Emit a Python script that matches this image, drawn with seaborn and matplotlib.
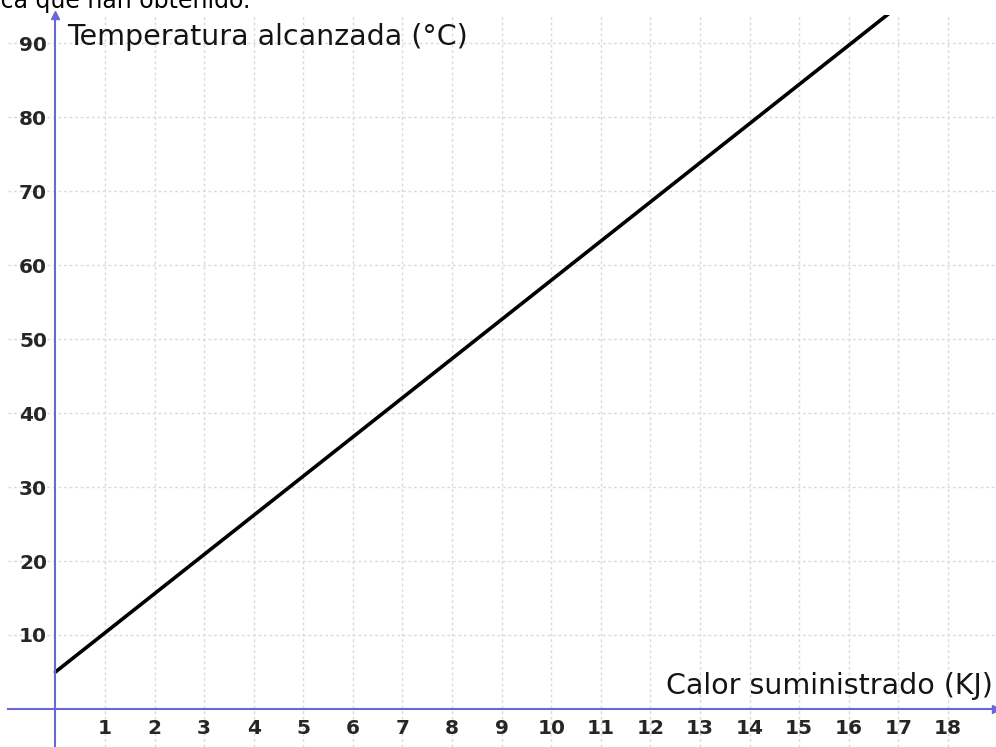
import matplotlib
matplotlib.use('Agg')
import matplotlib.pyplot as plt
import seaborn as sns

# datos de la recta
calor_kj = [0, 17]
temperatura_c = [5, 95]

x_ticks = list(range(1, 19))
y_ticks = list(range(10, 100, 10))

titulo_y = 'Temperatura alcanzada (°C)'
titulo_x = 'Calor suministrado (KJ)'
cabecera = 'ica que han obtenido.'

azul = '#6868d8'

sns.set_theme(style='white')
plt.rcParams['font.family'] = ['DejaVu Sans']

fig = plt.figure(figsize=(9.96, 7.47), dpi=100)
ax = fig.add_axes([8 / 996, 0, 1 - 8 / 996, (747 - 15) / 747])

# recta
sns.lineplot(x=calor_kj, y=temperatura_c, color='black', linewidth=2.6, ax=ax)

ax.set_xlim(-0.956, 18.97)
ax.set_ylim(-5.14, 93.8)
ax.set_xticks(x_ticks)
ax.set_yticks(y_ticks)
ax.set_xlabel('')
ax.set_ylabel('')

# ejes tipo geogebra
for lado in ['top', 'right']:
    ax.spines[lado].set_visible(False)
for lado in ['left', 'bottom']:
    ax.spines[lado].set_position(('data', 0))
    ax.spines[lado].set_color(azul)
    ax.spines[lado].set_linewidth(1.5)

ax.tick_params(axis='both', direction='inout', length=6, width=1.2, color=azul,
               labelsize=14.5, labelcolor='#262626')
ax.tick_params(axis='x', pad=4)
ax.tick_params(axis='y', pad=3)
for lbl in ax.get_xticklabels() + ax.get_yticklabels():
    lbl.set_fontweight('bold')

ax.grid(True, color='#dadada', linestyle=(0, (2, 2)), linewidth=1)
ax.set_axisbelow(True)

# flechas
ax.plot(1, 0, '>', color=azul, ms=6, transform=ax.get_yaxis_transform(), clip_on=False)
ax.plot(0, 1, '^', color=azul, ms=6, transform=ax.get_xaxis_transform(), clip_on=False)

# textos
ax.annotate(titulo_y, xy=(0, 1), xycoords=ax.get_xaxis_transform(),
            xytext=(12, -30), textcoords='offset pixels',
            ha='left', va='baseline', fontsize=20.5, color='#141414')
ax.annotate(titulo_x, xy=(1, 0), xycoords=ax.get_yaxis_transform(),
            xytext=(-3, 15), textcoords='offset pixels',
            ha='right', va='baseline', fontsize=20.5, color='#141414')

fig.text(250 / 996, 1 - 8 / 747, cabecera, ha='right', va='baseline',
         fontsize=17, color='black')

fig.savefig('out.png', dpi=100)
